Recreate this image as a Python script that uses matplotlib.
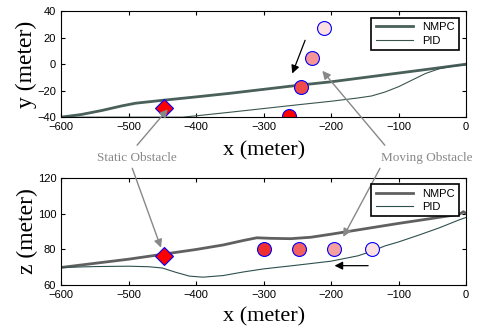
import matplotlib.pyplot as plt

# trayectorias en el plano x-y
x_nmpc_xy = [-600, -570, -540, -510, -490, -450, -400, -350, -300, -250, -200, -150, -100, -50, 0]
y_nmpc = [-40, -38, -35, -31.5, -29.5, -27.3, -24.7, -22, -19, -16, -13.3, -10, -6.7, -3.4, 0]
x_pid_xy = [-600, -550, -500, -450, -420, -400, -350, -300, -250, -200, -160, -140, -120, -100, -80, -60, -40, -20, 0]
y_pid = [-40, -40, -40, -40, -40, -39, -36.3, -33.5, -30.7, -28, -25.5, -24, -21, -17, -12, -7, -3.5, -1.5, -0.5]

# trayectorias en el plano x-z
x_nmpc_xz = [-600, -550, -500, -450, -400, -360, -330, -310, -290, -260, -230, -200, -150, -100, -50, -10, -4, 0]
z_nmpc = [70, 72.3, 74.6, 77.3, 80, 82.5, 85, 86.5, 86.2, 86, 86.8, 88.5, 91.5, 94.5, 97.3, 99.6, 101, 100]
x_pid_xz = [-600, -550, -500, -470, -450, -430, -410, -390, -360, -330, -300, -250, -200, -160, -140, -120, -100, -70, -40, -10, 0]
z_pid = [70, 70.5, 70.7, 70.4, 69.7, 67.3, 65.2, 64.6, 65.5, 67.5, 69.2, 71.3, 73.5, 76.5, 79, 82, 84.2, 88, 92, 96.5, 97.8]

# obstaculos
estatico_x = -448
estatico_y = -33
estatico_z = 76.5
movil_x_xy = [-263, -245, -228, -210]
movil_y = [-39, -17, 5, 27]
movil_x_xz = [-300, -247, -195, -140]
movil_z = [80, 80, 80, 80]
colores_movil = ['#ff0000', '#f24a4a', '#f59595', '#fde0e0']
colores_movil_xz = ['#f03030', '#f26060', '#f5a0a0', '#fde0e0']

serif = 'Liberation Serif'
plt.rcParams['font.family'] = 'Liberation Sans'

fig = plt.figure(figsize=(4.81, 3.30), dpi=100)
ax1 = fig.add_axes([0.127, 0.645, 0.842, 0.321])
ax2 = fig.add_axes([0.127, 0.135, 0.842, 0.327])

# grafica superior
ax1.plot(x_nmpc_xy, y_nmpc, color='#4a605a', lw=2, label='NMPC')
ax1.plot(x_pid_xy, y_pid, color='#3b5550', lw=0.8, label='PID')
ax1.plot(estatico_x, estatico_y, 'D', ms=9, mfc='red', mec='blue', mew=0.8)
for xx, yy, cc in zip(movil_x_xy, movil_y, colores_movil):
    ax1.plot(xx, yy, 'o', ms=10, mfc=cc, mec='blue', mew=0.8)
ax1.annotate('', xy=(-259, -9), xytext=(-237, 20),
             arrowprops=dict(arrowstyle='-|>', color='black', lw=0.9, mutation_scale=12))
ax1.set_xlim(-600, 0)
ax1.set_ylim(-40, 40)
ax1.set_yticks([-40, -20, 0, 20, 40])
ax1.set_ylabel('y (meter)', fontfamily=serif, fontsize=17, labelpad=0)
ax1.set_xlabel('x (meter)', fontfamily=serif, fontsize=16, labelpad=7)

# grafica inferior
ax2.plot(x_nmpc_xz, z_nmpc, color='#606060', lw=2, label='NMPC')
ax2.plot(x_pid_xz, z_pid, color='#2f4f4f', lw=0.8, label='PID')
ax2.plot(estatico_x, estatico_z, 'D', ms=9, mfc='red', mec='blue', mew=0.8)
for xx, zz, cc in zip(movil_x_xz, movil_z, colores_movil_xz):
    ax2.plot(xx, zz, 'o', ms=10, mfc=cc, mec='blue', mew=0.8)
ax2.annotate('', xy=(-199, 71), xytext=(-141, 71),
             arrowprops=dict(arrowstyle='-|>', color='black', lw=0.9, mutation_scale=12))
ax2.set_xlim(-600, 0)
ax2.set_ylim(60, 120)
ax2.set_yticks([60, 80, 100, 120])
ax2.set_ylabel('z (meter)', fontfamily=serif, fontsize=17, labelpad=0)
ax2.set_xlabel('x (meter)', fontfamily=serif, fontsize=16, labelpad=5)

for ax in (ax1, ax2):
    ax.tick_params(direction='in', labelsize=8, length=3, top=True, right=True)
    ax.set_xticks([-600, -500, -400, -300, -200, -100, 0])
    ley = ax.legend(loc='upper right', fontsize=8, fancybox=False, edgecolor='black',
                    framealpha=1, handlelength=3.4, borderaxespad=0.6, borderpad=0.4,
                    labelspacing=0.3)
    ley.get_frame().set_linewidth(1.2)

# anotaciones grises
gris = '#888888'
flecha = dict(arrowstyle='-|>', color=gris, lw=1, mutation_scale=12, shrinkA=0, shrinkB=0)
fig.text(0.285, 0.522, 'Static Obstacle', fontfamily=serif, fontsize=9.5, color=gris,
         ha='center', va='center')
ax1.annotate('', xy=(-442, -34), xytext=(0.285, 0.56), textcoords='figure fraction',
             arrowprops=flecha)
ax2.annotate('', xy=(-452, 81), xytext=(0.275, 0.49), textcoords='figure fraction',
             arrowprops=flecha)
fig.text(0.887, 0.522, 'Moving Obstacle', fontfamily=serif, fontsize=9.5, color=gris,
         ha='center', va='center')
ax1.annotate('', xy=(-213, -5), xytext=(0.8, 0.56), textcoords='figure fraction',
             arrowprops=flecha)
ax2.annotate('', xy=(-182, 87), xytext=(0.79, 0.49), textcoords='figure fraction',
             arrowprops=flecha)

plt.savefig('out.png', dpi=100)
